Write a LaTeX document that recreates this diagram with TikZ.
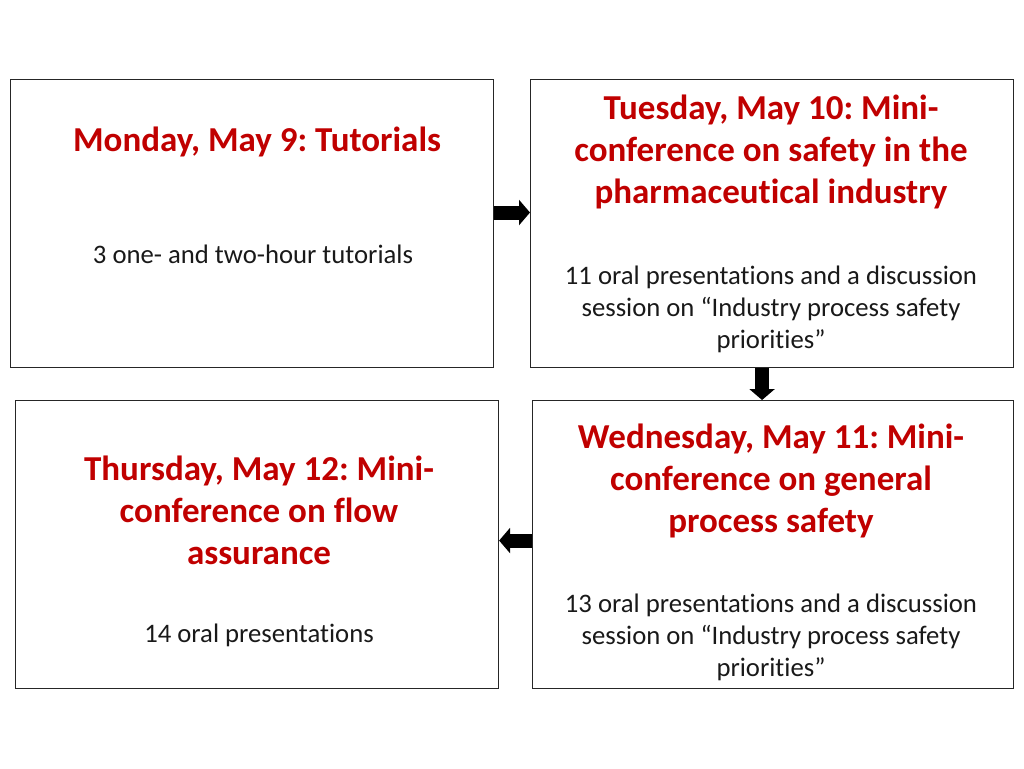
\documentclass[tikz,border=0pt]{standalone}
\usepackage{fontspec}
\setmainfont{Carlito}[Ligatures=NoCommon]
\usetikzlibrary{arrows.meta}
\definecolor{ttl}{RGB}{192,0,0}
\frenchspacing
\begin{document}
\begin{tikzpicture}[x=1pt,y=-1pt,
  box/.style={draw=black!85,line width=1.1pt,minimum width=#1,minimum height=288pt,inner sep=0pt,anchor=north west},
  ttltext/.style={text=ttl,font=\fontsize{35}{42}\selectfont\bfseries,align=center,inner sep=0pt},
  bodytext/.style={text=black!90,font=\fontsize{26.7}{32}\selectfont,align=center,inner sep=0pt},
  blk/.style={line width=14pt,-{Triangle[width=25pt,length=11pt]}}]
\useasboundingbox (0,0) rectangle (1024,768);
\node[box=483pt] (A) at (10,79) {};
\node[box=483pt] (B) at (530,79) {};
\node[box=481pt] (C) at (532,400) {};
\node[box=483pt] (D) at (15,400) {};
\node[ttltext] (At) at (257,142) {Monday, May 9: Tutorials};
\node[bodytext] (Ab) at (253,254) {3 one- and two-hour tutorials};
\node[ttltext] (Bt) at (771,152) {Tuesday, May 10: Mini-\\conference on safety in the\\pharmaceutical industry};
\node[bodytext] (Bb) at (771,309) {11 oral presentations and a discussion\\session on “Industry process safety\\priorities”};
\node[ttltext] (Ct) at (771,481) {Wednesday, May 11: Mini-\\conference on general\\process safety};
\node[bodytext] (Cb) at (771,637) {13 oral presentations and a discussion\\session on “Industry process safety\\priorities”};
\node[ttltext] (Dt) at (259,510.5) {Thursday, May 12: Mini-\\conference on flow\\assurance};
\node[bodytext] (Db) at (259,635) {14 oral presentations};
\draw[blk] ([yshift=11pt]A.east) -- ([yshift=11pt]A.east -| B.west);
\draw[blk] ([xshift=-10pt]B.south) -- ([xshift=-10pt]B.south |- C.north);
\draw[blk] ([yshift=4pt]C.west) -- ([yshift=4pt]C.west -| D.east);
\end{tikzpicture}
\end{document}
